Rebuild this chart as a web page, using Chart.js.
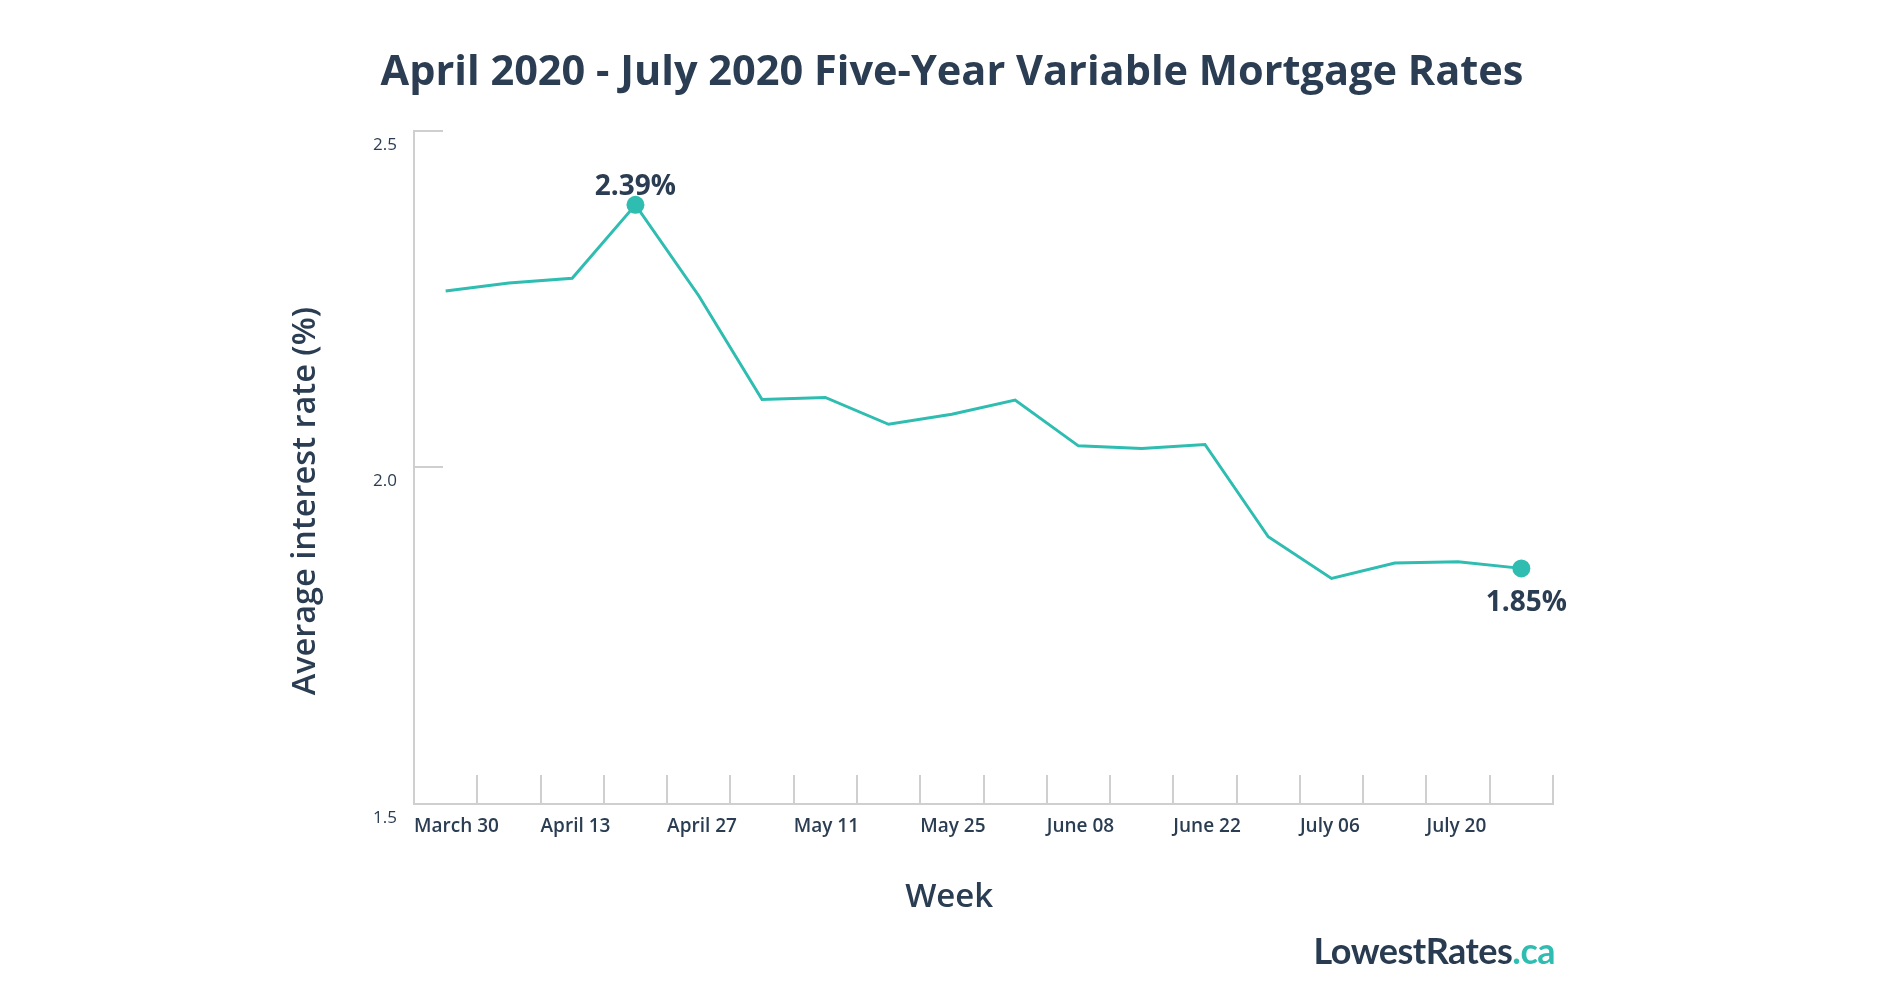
<!DOCTYPE html>
<html>
<head>
<meta charset="utf-8">
<title>Five-Year Variable Mortgage Rates</title>
<script src="https://cdn.jsdelivr.net/npm/chart.js@4.4.1/dist/chart.umd.min.js"></script>
<style>
  body { margin: 0; background: #fff; }
  #wrap { position: relative; width: 1904px; height: 997px; }
  #logo { position: absolute; right: 349px; top: 928px; font: 700 36px Lato, sans-serif; color: #283b50; letter-spacing: -0.5px; }
  #logo span { color: #2ebdb0; }
</style>
</head>
<body>
<div id="wrap">
  <canvas id="rates"></canvas>
  <div id="logo">LowestRates<span>.ca</span></div>
</div>
<script>
// weekly averages
var weeks = ["March 30", "April 06", "April 13", "April 20", "April 27", "May 04",
  "May 11", "May 18", "May 25", "June 01", "June 08", "June 15",
  "June 22", "June 29", "July 06", "July 13", "July 20", "July 27"];
var rates = [2.262, 2.274, 2.281, 2.39, 2.255, 2.101, 2.104, 2.064, 2.079, 2.100,
  2.032, 2.028, 2.034, 1.897, 1.835, 1.858, 1.860, 1.85];
var yTicks = [1.5, 2.0, 2.5];

var navy = "#2b3d52";
var teal = "#2ebdb0";
var axisGrey = "#cfcfcf";
var maxRate = Math.max.apply(null, rates);

function isMarked(i) {
  return rates[i] === maxRate || i === rates.length - 1;
}

// value labels next to the two marked points
var pointLabels = {
  id: "pointLabels",
  afterDatasetsDraw: function (chart) {
    var ctx = chart.ctx;
    var meta = chart.getDatasetMeta(0);
    ctx.save();
    ctx.font = "700 28px 'Open Sans'";
    ctx.fillStyle = navy;
    ctx.textAlign = "center";
    ctx.textBaseline = "middle";
    meta.data.forEach(function (pt, i) {
      if (!isMarked(i)) return;
      var txt = rates[i].toFixed(2) + "%";
      if (rates[i] === maxRate) {
        ctx.fillText(txt, pt.x, pt.y - 18);
      } else {
        ctx.fillText(txt, pt.x + 5, pt.y + 35);
      }
    });
    ctx.restore();
  }
};

new Chart(document.getElementById("rates"), {
  type: "line",
  data: {
    labels: weeks,
    datasets: [{
      label: "Five-year variable",
      data: rates,
      borderColor: teal,
      backgroundColor: teal,
      borderWidth: 3,
      tension: 0,
      pointRadius: function (c) { return isMarked(c.dataIndex) ? 9 : 0; },
      pointHoverRadius: 9,
      pointBorderWidth: 0
    }]
  },
  options: {
    responsive: true,
    maintainAspectRatio: false,
    animation: false,
    layout: { padding: 0 },
    plugins: {
      legend: { display: false },
      tooltip: { enabled: false },
      title: {
        display: true,
        text: "April 2020 - July 2020 Five-Year Variable Mortgage Rates",
        color: navy,
        font: { family: "'Open Sans'", size: 41.5, weight: "700" },
        padding: { top: 48, bottom: 33 }
      }
    },
    scales: {
      x: {
        offset: true,
        border: { color: axisGrey, width: 2 },
        grid: { offset: true, drawOnChartArea: false, drawTicks: true, tickLength: -29, color: axisGrey, lineWidth: 2 },
        ticks: {
          autoSkip: false,
          maxRotation: 0,
          align: "start",
          padding: 40,
          color: navy,
          font: { family: "'Open Sans'", size: 19, weight: "600" },
          labelOffset: function (c) {
            return -c.chart.chartArea.width / weeks.length / 2;
          },
          callback: function (v, i) { return i % 2 === 0 ? weeks[i] : ""; }
        },
        title: {
          display: true,
          text: "Week        ",
          color: navy,
          font: { family: "'Open Sans'", size: 33, weight: "600" },
          padding: { top: 0, bottom: 80 }
        },
        afterFit: function (s) { s.height = 193; }
      },
      y: {
        min: yTicks[0],
        max: yTicks[yTicks.length - 1],
        border: { color: axisGrey, width: 2 },
        grid: { drawOnChartArea: false, drawTicks: true, tickLength: -29, color: axisGrey, lineWidth: 2 },
        ticks: {
          stepSize: 0.5,
          padding: 46,
          labelOffset: 14,
          color: navy,
          font: { family: "'Open Sans'", size: 17, weight: "500" },
          callback: function (v) { return v.toFixed(1); }
        },
        title: {
          display: true,
          text: "Average interest rate (%)        ",
          color: navy,
          font: { family: "'Open Sans'", size: 32.5, weight: "600" },
          padding: { top: 286, bottom: 0 }
        },
        afterFit: function (s) { s.width = 414; }
      },
      // empty right-hand gutter so the plot ends where the original does
      gutter: {
        type: "linear",
        position: "right",
        grid: { display: false },
        border: { display: false },
        ticks: { display: false },
        afterFit: function (s) { s.width = 351; }
      }
    }
  },
  plugins: [pointLabels]
});
</script>
</body>
</html>
